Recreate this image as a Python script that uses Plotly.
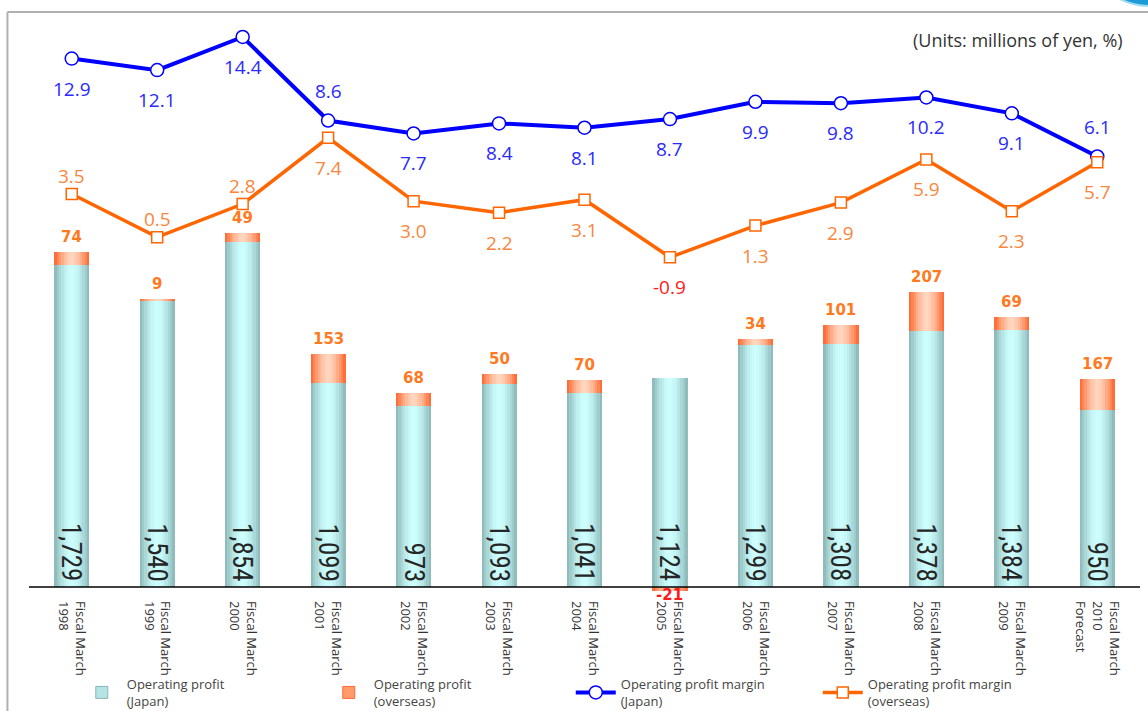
import plotly.graph_objects as go

# ---------------- data ----------------
years = ["1998", "1999", "2000", "2001", "2002", "2003", "2004",
         "2005", "2006", "2007", "2008", "2009", "2010"]
categories = [f"Fiscal March<br>{y}" for y in years[:-1]] + ["Fiscal March<br>2010<br>Forecast"]
japan_profit = [1729, 1540, 1854, 1099, 973, 1093, 1041, 1124, 1299, 1308, 1378, 1384, 950]
overseas_profit = [74, 9, 49, 153, 68, 50, 70, -21, 34, 101, 207, 69, 167]
japan_margin = [12.9, 12.1, 14.4, 8.6, 7.7, 8.4, 8.1, 8.7, 9.9, 9.8, 10.2, 9.1, 6.1]
overseas_margin = [3.5, 0.5, 2.8, 7.4, 3.0, 2.2, 3.1, -0.9, 1.3, 2.9, 5.9, 2.3, 5.7]
jp_labels_above = [3, 12]
ov_labels_above = [0, 1, 2]

# ---------------- styling helpers ----------------
BAR_W = 0.41
N_STRIPS = 15


def mix(c1, c2, t):
    return "rgb(%d,%d,%d)" % tuple(round(a + (b - a) * t) for a, b in zip(c1, c2))


JP_CENTER, JP_EDGE = (206, 255, 255), (138, 180, 180)
OV_CENTER, OV_EDGE = (255, 214, 190), (255, 98, 40)

fig = go.Figure()

base_over = [j if o >= 0 else 0 for j, o in zip(japan_profit, overseas_profit)]
sw = BAR_W / N_STRIPS
for k in range(N_STRIPS):
    t = abs((k + 0.5) / N_STRIPS * 2 - 1) ** 1.6
    off = -BAR_W / 2 + k * sw
    fig.add_trace(go.Bar(
        x=categories, y=japan_profit, width=sw * 1.04, offset=off,
        marker=dict(color=mix(JP_CENTER, JP_EDGE, t), line=dict(width=0)),
        showlegend=False, hoverinfo="skip", yaxis="y"))
    fig.add_trace(go.Bar(
        x=categories, y=overseas_profit, base=base_over, width=sw * 1.04, offset=off,
        marker=dict(color=mix(OV_CENTER, OV_EDGE, t), line=dict(width=0)),
        showlegend=False, hoverinfo="skip", yaxis="y"))

# legend entries for bars
fig.add_trace(go.Bar(x=[None], y=[None], name="Operating profit<br>(Japan)",
                     marker=dict(color="#b4e4e4", line=dict(color="#8cb4b4", width=1))))
fig.add_trace(go.Bar(x=[None], y=[None], name="Operating profit<br>(overseas)",
                     marker=dict(color="#ff9a6a", line=dict(color="#ff6a30", width=1))))

fig.add_trace(go.Scatter(
    x=categories, y=japan_margin, yaxis="y2", mode="lines+markers",
    name="Operating profit margin<br>(Japan)",
    line=dict(color="#0000ff", width=4),
    marker=dict(symbol="circle", size=13, color="white", line=dict(color="#0000ff", width=1.5))))
fig.add_trace(go.Scatter(
    x=categories, y=overseas_margin, yaxis="y2", mode="lines+markers",
    name="Operating profit margin<br>(overseas)",
    line=dict(color="#ff6600", width=3.5),
    marker=dict(symbol="square", size=11, color="white", line=dict(color="#ff6600", width=1.5))))

annotations = []
# Japan values inside bars
for c, v in zip(categories, japan_profit):
    annotations.append(dict(
        x=c, y=0, xref="x", yref="y", text=f"{v:,}", showarrow=False,
        textangle=90, yanchor="bottom", xanchor="center", yshift=3,
        font=dict(family="Liberation Sans Narrow, Roboto Condensed, DejaVu Sans Condensed, sans-serif",
                  size=27, color="#262626")))
# overseas values above bars
for c, j, o in zip(categories, japan_profit, overseas_profit):
    if o >= 0:
        annotations.append(dict(
            x=c, y=j + o, xref="x", yref="y", text=str(o), showarrow=False,
            yanchor="bottom", yshift=4,
            font=dict(family="DejaVu Sans", size=15, color="#ff7a1f", weight="bold")))
    else:
        annotations.append(dict(
            x=c, y=0, xref="x", yref="y", text=str(o), showarrow=False,
            yanchor="top", yshift=3,
            font=dict(family="DejaVu Sans", size=15, color="#ff1a1a", weight="bold")))
# margin labels
for i, (c, v) in enumerate(zip(categories, japan_margin)):
    annotations.append(dict(
        x=c, y=v, xref="x", yref="y2", text=f"{v:.1f}", showarrow=False,
        yshift=30 if i in jp_labels_above else -30,
        font=dict(family="Open Sans", size=19, color="#2a2aff")))
for i, (c, v) in enumerate(zip(categories, overseas_margin)):
    annotations.append(dict(
        x=c, y=v, xref="x", yref="y2", text=f"{v:.1f}", showarrow=False,
        yshift=18 if i in ov_labels_above else -30,
        font=dict(family="Open Sans", size=19, color="#ff1a1a" if v < 0 else "#f8873c")))
annotations.append(dict(
    x=0.9865, y=1.0, xref="paper", yref="paper", xanchor="right", yanchor="middle",
    yshift=-20, text="(Units: millions of yen, %)", showarrow=False,
    font=dict(family="Open Sans", size=18, color="#333333")))

shapes = [
    dict(type="line", xref="paper", yref="y", x0=0, x1=1, y0=0, y1=0,
         line=dict(color="black", width=1.5)),
    dict(type="line", xref="paper", yref="paper", x0=-0.0194, x1=-0.0194, y0=1.0138, y1=-0.2,
         line=dict(color="#b0b0b0", width=2)),
    dict(type="line", xref="paper", yref="paper", x0=-0.0194, x1=1.01, y0=1.0138, y1=1.0138,
         line=dict(color="#b0b0b0", width=2)),
    dict(type="circle", xref="paper", yref="paper", x0=0.9496, x1=1.0684, y0=1.0241, y1=1.2517,
         fillcolor="#1e9bd7", line=dict(color="#9fdcf2", width=2)),
]

fig.update_layout(
    width=1148, height=711,
    margin=dict(l=29, r=8, t=20, b=111, autoexpand=False),
    paper_bgcolor="white", plot_bgcolor="white",
    barmode="overlay", bargap=0,
    showlegend=True,
    legend=dict(orientation="h", x=0.043, xanchor="left", y=-0.119, yanchor="top",
                entrywidth=192, entrywidthmode="pixels", itemwidth=40,
                traceorder="normal",
                font=dict(family="Open Sans", size=13, color="#444444"),
                bgcolor="rgba(0,0,0,0)"),
    xaxis=dict(type="category", range=[-0.5, 12.5], tickangle=90, showline=False,
               showgrid=False, zeroline=False, ticks="",
               tickfont=dict(family="Open Sans", size=13, color="#333333")),
    yaxis=dict(range=[-69.9, 3048], visible=False, showgrid=False, zeroline=False),
    yaxis2=dict(range=[-24.70, 15.58], overlaying="y", visible=False,
                showgrid=False, zeroline=False),
    annotations=annotations,
    shapes=shapes,
)

fig.write_html("out.html")
